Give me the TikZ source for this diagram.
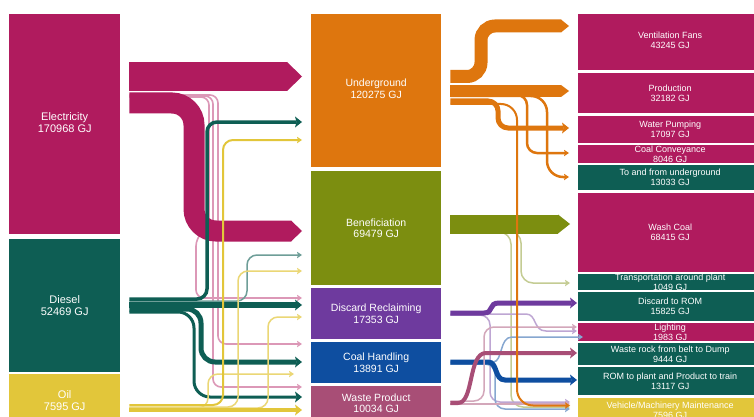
\documentclass[tikz,border=0pt]{standalone}
\usepackage{fontspec}
\setmainfont{Liberation Sans}
\usetikzlibrary{arrows.meta}
\definecolor{elecred}{RGB}{176,27,94}
\definecolor{dieselgreen}{RGB}{14,94,84}
\definecolor{oilyellow}{RGB}{226,198,58}
\definecolor{ugorange}{RGB}{222,118,14}
\definecolor{benolive}{RGB}{124,142,16}
\definecolor{discpurple}{RGB}{110,58,158}
\definecolor{coalblue}{RGB}{14,78,160}
\definecolor{wastepink}{RGB}{168,78,118}
\tikzset{
  box/.style={rectangle, fill=#1, draw=none, inner sep=0pt, anchor=north west},
  lefttext/.style={text=white, align=center, inner sep=0pt, font=\fontsize{11}{12}\selectfont},
  midtext/.style={text=white, align=center, inner sep=0pt, font=\fontsize{10.5}{11.5}\selectfont},
  righttext/.style={text=white, align=center, inner sep=0pt, font=\fontsize{9}{10}\selectfont},
  flow/.style={line width=#1, shorten <=9pt, shorten >=9pt,
    -{Stealth[length=5pt, width=6.5pt, inset=1pt, line width=0pt]}},
  fatflow/.style={line width=#1, shorten <=9pt, shorten >=9pt,
    -{Stealth[length=7pt, width=11pt, inset=1.5pt, line width=0pt]}},
  band/.style 2 args={line width=#1, shorten <=9pt, shorten >=9pt,
    -{Triangle[length=#2, width=#1, line width=0pt]}}
}
\begin{document}
\begin{tikzpicture}[x=1pt,y=-1pt]
\useasboundingbox (0,0) rectangle (754,417);
\fill[white] (0,0) rectangle (754,417);
\clip (0,0) rectangle (754,417);

% sources
\node[box=elecred, minimum width=111pt, minimum height=220pt] (elec) at (9,14) {};
\node[lefttext] (elec-t) at ([yshift=2pt]elec.center) {Electricity\\170968 GJ};
\node[box=dieselgreen, minimum width=111pt, minimum height=133pt] (diesel) at (9,239) {};
\node[lefttext] (diesel-t) at (diesel.center) {Diesel\\52469 GJ};
\node[box=oilyellow, minimum width=111pt, minimum height=52pt] (oil) at (9,374) {};
\node[lefttext] (oil-t) at (oil.center) {Oil\\7595 GJ};

% areas
\node[box=ugorange, minimum width=130pt, minimum height=153pt] (ug) at (311,14) {};
\node[midtext] (ug-t) at ([yshift=2pt]ug.center) {Underground\\120275 GJ};
\node[box=benolive, minimum width=130pt, minimum height=114pt] (benef) at (311,171) {};
\node[midtext] (benef-t) at (benef.center) {Beneficiation\\69479 GJ};
\node[box=discpurple, minimum width=130pt, minimum height=51pt] (disc) at (311,288) {};
\node[midtext] (disc-t) at (disc.center) {Discard Reclaiming\\17353 GJ};
\node[box=coalblue, minimum width=130pt, minimum height=41pt] (coalh) at (311,342) {};
\node[midtext] (coalh-t) at (coalh.center) {Coal Handling\\13891 GJ};
\node[box=wastepink, minimum width=130pt, minimum height=34pt] (waste) at (311,386) {};
\node[midtext] (waste-t) at (waste.center) {Waste Product\\10034 GJ};

% end uses
\node[box=elecred, minimum width=184pt, minimum height=56pt] (vent) at (578,14) {};
\node[righttext] (vent-t) at ([yshift=2pt]vent.center) {Ventilation Fans\\43245 GJ};
\node[box=elecred, minimum width=184pt, minimum height=40pt] (prod) at (578,73) {};
\node[righttext] (prod-t) at (prod.center) {Production\\32182 GJ};
\node[box=elecred, minimum width=184pt, minimum height=27pt] (pump) at (578,116) {};
\node[righttext] (pump-t) at (pump.center) {Water Pumping\\17097 GJ};
\node[box=elecred, minimum width=184pt, minimum height=18pt] (conv) at (578,145) {};
\node[righttext] (conv-t) at (conv.center) {Coal Conveyance\\8046 GJ};
\node[box=dieselgreen, minimum width=184pt, minimum height=25pt] (tofro) at (578,165) {};
\node[righttext] (tofro-t) at (tofro.center) {To and from underground\\13033 GJ};
\node[box=elecred, minimum width=184pt, minimum height=79pt] (wash) at (578,193) {};
\node[righttext] (wash-t) at (wash.center) {Wash Coal\\68415 GJ};
\node[box=dieselgreen, minimum width=184pt, minimum height=16pt] (transp) at (578,274) {};
\node[righttext] (transp-t) at (transp.center) {Transportation around plant\\1049 GJ};
\node[box=dieselgreen, minimum width=184pt, minimum height=29pt] (drom) at (578,292) {};
\node[righttext] (drom-t) at (drom.center) {Discard to ROM\\15825 GJ};
\node[box=elecred, minimum width=184pt, minimum height=18pt] (light) at (578,323) {};
\node[righttext] (light-t) at (light.center) {Lighting\\1983 GJ};
\node[box=dieselgreen, minimum width=184pt, minimum height=22pt] (rock) at (578,343) {};
\node[righttext] (rock-t) at (rock.center) {Waste rock from belt to Dump\\9444 GJ};
\node[box=dieselgreen, minimum width=184pt, minimum height=28pt] (rom) at (578,367) {};
\node[righttext] (rom-t) at (rom.center) {ROM to plant and Product to train\\13117 GJ};
\node[box=oilyellow, minimum width=184pt, minimum height=24pt] (vmm) at (578,398) {};
\node[righttext] (vmm-t) at (vmm.center) {Vehicle/Machinery Maintenance\\7596 GJ};

% electricity
\draw[flow=1.6, elecred!45, rounded corners=8] (elec.east |- 0,95) -- (218,95) -- (218,344) -- (coalh.west |- 0,344);
\draw[flow=1.6, elecred!45, rounded corners=8] (elec.east |- 0,96) -- (213,96) -- (213,387) -- (waste.west |- 0,387);
\draw[flow=1.6, elecred!45, rounded corners=8] (elec.east |- 0,97) -- (209,97) -- (209,226) -- (196,238) -- (196,298) -- (disc.west |- 0,298);
\draw[band={29pt}{15pt}, elecred] (elec.east |- 0,76.5) -- (ug.west |- 0,76.5);
\draw[band={21pt}{11pt}, elecred, rounded corners=22] (elec.east |- 0,103) -- (194,103) -- (194,231) -- (benef.west |- 0,231);

% diesel
\draw[flow=1.5, dieselgreen!60, rounded corners=10] (diesel.east |- 0,301) -- (247,301) -- (247,255) -- (benef.west |- 0,255);
\draw[fatflow=3.5, dieselgreen, rounded corners=10] (diesel.east |- 0,299) -- (207,299) -- (207,122) -- (ug.west |- 0,122);
\draw[fatflow=6, dieselgreen] (diesel.east |- 0,305) -- (disc.west |- 0,305);
\draw[fatflow=5, dieselgreen, rounded corners=14] (diesel.east |- 0,309) -- (201,309) -- (201,362) -- (coalh.west |- 0,362);
\draw[fatflow=3, dieselgreen, rounded corners=16] (diesel.east |- 0,312) -- (194,312) -- (194,397) -- (waste.west |- 0,397);

% oil
\draw[flow=1.5, oilyellow!70, rounded corners=10] (oil.east |- 0,407) -- (238,407) -- (238,271) -- (benef.west |- 0,271);
\draw[flow=1.5, oilyellow!70, rounded corners=10] (oil.east |- 0,408) -- (268,408) -- (268,317) -- (disc.west |- 0,317);
\draw[flow=1.5, oilyellow!70, rounded corners=10, shorten >=17pt] (oil.east |- 0,408) -- (208,408) -- (208,374) -- (coalh.west |- 0,374);
\draw[flow=2, oilyellow, rounded corners=10] (oil.east |- 0,405) -- (223,405) -- (223,140) -- (ug.west |- 0,140);
\draw[fatflow=3.5, oilyellow] (oil.east |- 0,410) -- (waste.west |- 0,410);

% beneficiation
\draw[flow=1.5, benolive!45, rounded corners=12, shorten >=8pt] (benef.east |- 0,231) -- (521,231) -- (521,283) -- (transp.west |- 0,283);
\draw[flow=1.5, benolive!45, rounded corners=12, shorten >=8pt] (benef.east |- 0,232) -- (511,232) -- (511,407) -- (vmm.west |- 0,407);
\draw[band={19pt}{12pt}, benolive, shorten >=8pt] (benef.east |- 0,224) -- (wash.west |- 0,224);

% underground
\draw[flow=2.5, ugorange, rounded corners=10] (ug.east |- 0,95) -- (527,95) -- (527,153) -- (conv.west |- 0,153);
\draw[flow=2.5, ugorange, rounded corners=16] (ug.east |- 0,96) -- (547,96) -- (547,177) -- (tofro.west |- 0,177);
\draw[band={12pt}{8pt}, ugorange] (ug.east |- 0,91) -- (prod.west |- 0,91);
\draw[fatflow=5, ugorange, rounded corners=10] (ug.east |- 0,101) -- (498,101) -- (498,128) -- (pump.west |- 0,128);
\draw[band={13pt}{8pt}, ugorange, rounded corners=14] (ug.east |- 0,76.5) -- (481,76.5) -- (481,26) -- (vent.west |- 0,26);

% discard reclaiming
\draw[flow=1.5, discpurple!45, rounded corners=10, shorten >=8pt] (disc.east |- 0,315) -- (490,315) -- (490,402) -- (vmm.west |- 0,402);
\draw[flow=1.5, discpurple!45, shorten >=1pt] (disc.east |- 0,314) -- (526,314) .. controls (537,314) and (533,331) .. (546,331) -- (light.west |- 0,331);
\draw[fatflow=5, discpurple, shorten >=1pt] (disc.east |- 0,313) -- (484,313) .. controls (494,313) and (488,303) .. (499,303) -- (drom.west |- 0,303);

% coal handling
\draw[flow=1.5, coalblue!50, rounded corners=10, shorten >=8pt] (coalh.east |- 0,364) -- (495,364) -- (495,409) -- (vmm.west |- 0,409);
\draw[flow=1.5, coalblue!50, shorten >=-5pt] (coalh.east |- 0,362) -- (493,362) .. controls (503,362) and (499,337) .. (512,337) -- (light.west |- 0,337);
\draw[fatflow=5, coalblue, shorten >=1pt] (coalh.east |- 0,362) -- (488,362) .. controls (498,362) and (494,380) .. (505,380) -- (rom.west |- 0,380);

% waste product
\draw[flow=1.5, wastepink!50, shorten >=8pt] (waste.east |- 0,404) -- (vmm.west |- 0,404);
\draw[flow=1.5, wastepink!50, rounded corners=10, shorten >=1pt] (waste.east |- 0,401) -- (484,401) -- (484,327) -- (light.west |- 0,327);
\draw[fatflow=4, wastepink, shorten >=1pt] (waste.east |- 0,403) -- (458,403) .. controls (474,403) and (468,353) .. (486,353) -- (rock.west |- 0,353);

% long underground line
\draw[flow=2, ugorange, rounded corners=16, shorten >=8pt] (ug.east |- 0,104) -- (517,104) -- (517,405.5) -- (vmm.west |- 0,405.5);
\end{tikzpicture}
\end{document}
